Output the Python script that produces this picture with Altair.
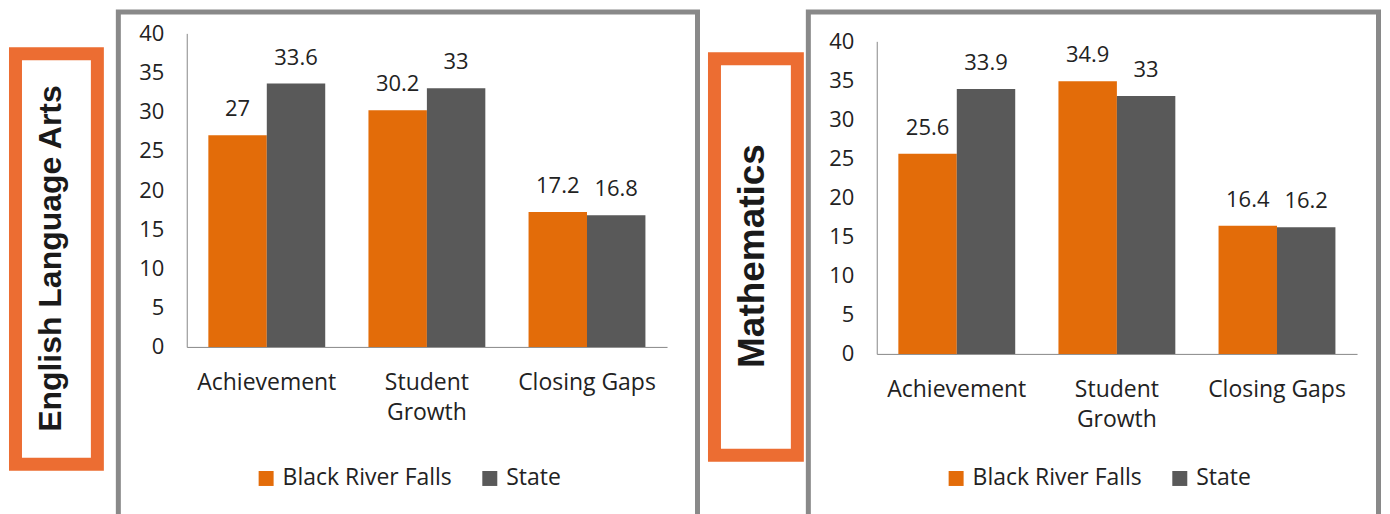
import altair as alt
import pandas as pd

categories = ["Achievement", "Student Growth", "Closing Gaps"]
series_names = ["Black River Falls", "State"]
ela_brf = [27, 30.2, 17.2]
ela_state = [33.6, 33, 16.8]
math_brf = [25.6, 34.9, 16.4]
math_state = [33.9, 33, 16.2]
y_ticks = [0, 5, 10, 15, 20, 25, 30, 35, 40]
subject_titles = ["English Language Arts", "Mathematics"]

bar_colors = ["#E36C09", "#595959"]
FONT = "Open Sans"
TXT = "#222222"


def make_df(brf, state):
    rows = []
    for c, b, s in zip(categories, brf, state):
        rows.append({"category": c, "series": series_names[0], "value": b})
        rows.append({"category": c, "series": series_names[1], "value": s})
    return pd.DataFrame(rows)


one = pd.DataFrame({"k": [0]})


def panel(df, title, height, yrange, frame_x2, box, title_x, title_y, title_size):
    x = alt.X(
        "category:N", sort=categories, title=None,
        scale=alt.Scale(paddingInner=0.27, paddingOuter=0.135),
        axis=alt.Axis(
            labelAngle=0, labelFont=FONT, labelFontSize=23, labelColor=TXT,
            labelPadding=25, labelLineHeight=30, ticks=False, tickSize=0,
            domainColor="#888888", domainWidth=1, grid=False, labelLimit=0,
            labelExpr="datum.label == 'Student Growth' ? ['Student', 'Growth'] : datum.label",
        ),
    )
    if yrange:
        ysc = alt.Scale(domain=[0, 40], range=yrange)
    else:
        ysc = alt.Scale(domain=[0, 40])
    y = alt.Y(
        "value:Q", scale=ysc, title=None,
        axis=alt.Axis(
            values=y_ticks, labelFont=FONT, labelFontSize=22, labelColor=TXT,
            labelPadding=23, ticks=False, tickSize=0, grid=False,
            domainColor="#888888", domainWidth=1,
        ),
    )
    xo = alt.XOffset("series:N", sort=series_names,
                     scale=alt.Scale(paddingInner=0, paddingOuter=0))

    frame = alt.Chart(one).mark_rect(
        fill="transparent", stroke="#898989", strokeWidth=5
    ).encode(
        x=alt.value(-68.5), x2=alt.value(frame_x2),
        y=alt.value(-21.5), y2=alt.value(530),
    )
    bx0, bx1, by0, by1 = box
    label_box = alt.Chart(one).mark_rect(
        fill="white", stroke="#EC6D32", strokeWidth=13
    ).encode(
        x=alt.value(bx0), x2=alt.value(bx1), y=alt.value(by0), y2=alt.value(by1),
    )
    label_text = alt.Chart(one).mark_text(
        text=title, angle=270, align="center", baseline="alphabetic",
        font="Liberation Sans", fontWeight="bold", fontSize=title_size,
        color="#1a1a1a",
    ).encode(x=alt.value(title_x), y=alt.value(title_y))

    bars = alt.Chart(df).mark_bar().encode(
        x=x, xOffset=xo, y=y,
        color=alt.Color(
            "series:N", sort=series_names,
            scale=alt.Scale(domain=series_names, range=bar_colors),
            legend=alt.Legend(
                title=None, orient="none", legendX=68, legendY=434,
                direction="horizontal", symbolType="square", symbolSize=225,
                symbolStrokeWidth=0, labelFont=FONT, labelFontSize=23,
                labelColor=TXT, labelOffset=5, columnPadding=26, padding=0,
                labelLimit=0,
            ),
        ),
    )
    texts = alt.Chart(df).mark_text(
        baseline="alphabetic", dy=-19, font=FONT, fontSize=22, color=TXT,
    ).encode(x=x, xOffset=xo, y=y, text=alt.Text("value:Q"))

    return alt.layer(frame, label_box, label_text, bars, texts).properties(
        width=481, height=height
    )


left = panel(make_df(ela_brf, ela_state), subject_titles[0], 314, None, 511.5,
             (-171.5, -89.5, 20.5, 431.5), -126, 225.5, 32)
right = panel(make_df(math_brf, math_state), subject_titles[1], 321, [321, 8], 502.5,
              (-162.5, -79.5, 25.5, 422.5), -113, 223, 37)

chart = alt.hconcat(left, right, spacing=210, bounds="flush", padding=0).resolve_legend(
    color="independent"
).resolve_scale(x="independent", y="independent").configure_view(stroke="transparent")

chart.save("out.html", embed_options={"renderer": "svg", "actions": False})
